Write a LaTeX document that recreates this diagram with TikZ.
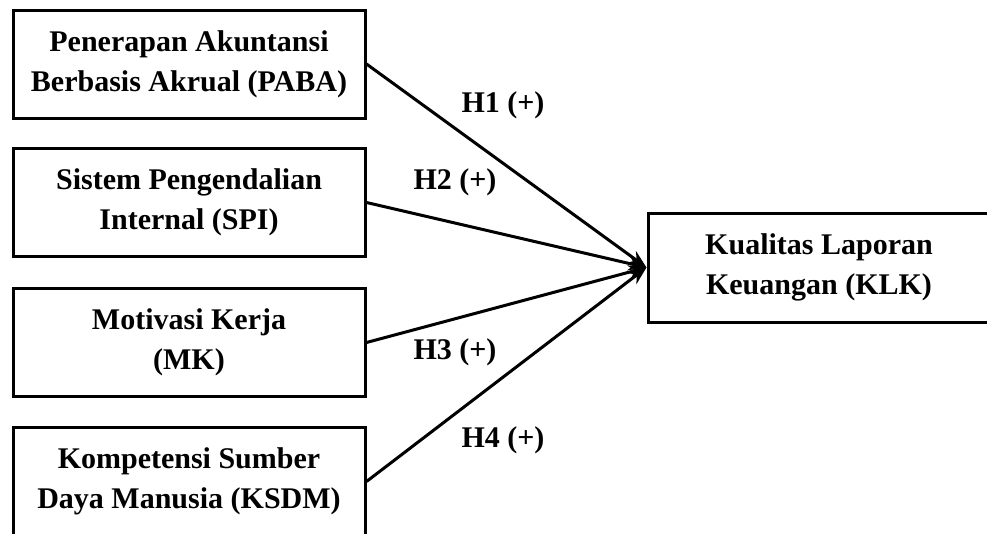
\documentclass[tikz,border=0pt]{standalone}
\usepackage{fontspec}
\setmainfont{Liberation Serif}
\usetikzlibrary{arrows.meta}
\begin{document}
\begin{tikzpicture}[x=1pt,y=-1pt,
  varbox/.style={draw=black,line width=3pt,fill=white,minimum width=352pt,minimum height=108pt,
    align=center,inner sep=0pt,font=\bfseries\fontsize{30}{40}\selectfont},
  hyplabel/.style={font=\bfseries\fontsize{30}{36}\selectfont,inner sep=0pt},
  link/.style={line width=3pt,-{Stealth[length=18pt,width=14pt]}}]
\clip (0,0) rectangle (987,533);
\fill[white] (0,0) rectangle (987,533);
\node[varbox] (paba) at (189,64) {Penerapan Akuntansi\\Berbasis Akrual (PABA)};
\node[varbox] (spi) at (189,202.5) {Sistem Pengendalian\\Internal (SPI)};
\node[varbox] (mk) at (189,342.5) {Motivasi Kerja\\(MK)};
\node[varbox] (ksdm) at (189,481.5) {Kompetensi Sumber\\Daya Manusia (KSDM)};
\node[varbox,minimum width=342pt,minimum height=109pt] (klk) at (819,267.5) {Kualitas Laporan\\Keuangan (KLK)};
\draw[link] (paba.east) -- (klk.west);
\draw[link] (spi.east) -- (klk.west);
\draw[link] (mk.east) -- (klk.west);
\draw[link] (ksdm.east) -- (klk.west);
\node[hyplabel] (h1) at (503,105) {H1 (+)};
\node[hyplabel] (h2) at (455,182) {H2 (+)};
\node[hyplabel] (h3) at (455,352) {H3 (+)};
\node[hyplabel] (h4) at (503,440) {H4 (+)};
\end{tikzpicture}
\end{document}
